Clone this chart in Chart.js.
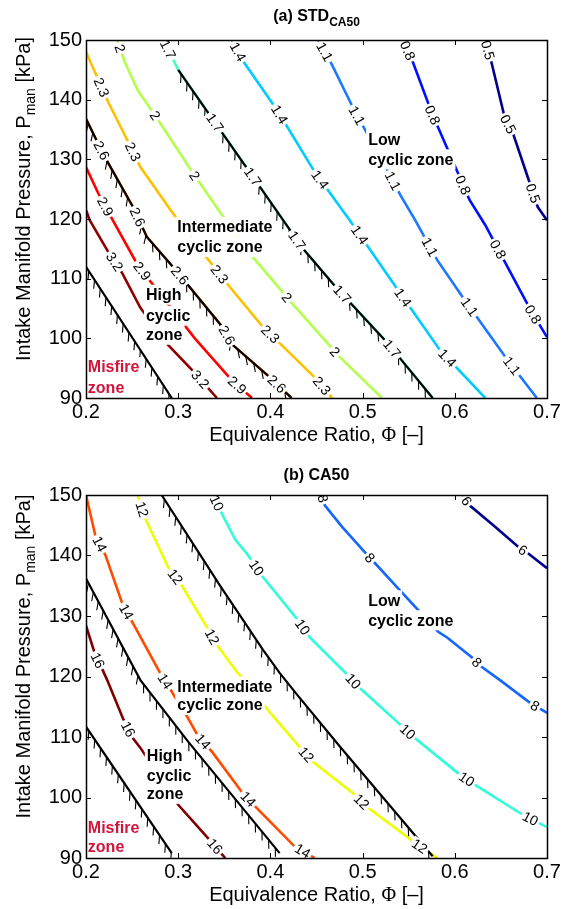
<!DOCTYPE html>
<html>
<head>
<meta charset="utf-8">
<script src="https://cdn.jsdelivr.net/npm/chart.js@4.4.0/dist/chart.umd.min.js"></script>
<style>
  body { margin: 0; background: #fff; }
  .panel { position: absolute; left: 0; width: 575px; }
  #pa { top: 0; height: 455px; }
  #pb { top: 455px; height: 454px; }
</style>
</head>
<body>
<div class="panel" id="pa"><canvas id="chartA"></canvas></div>
<div class="panel" id="pb"><canvas id="chartB"></canvas></div>
<script>
// axis ticks
const xTicks = [0.2, 0.3, 0.4, 0.5, 0.6, 0.7];
const yTicks = [90, 100, 110, 120, 130, 140, 150];

// (a) STD_CA50 contours, points are [phi, Pman]
const stdLevels = [0.5, 0.8, 1.1, 1.4, 1.7, 2, 2.3, 2.6, 2.9, 3.2];
const stdColors = ['#00008f', '#0010ff', '#1c78ff', '#00ccff', '#40ffbf', '#b2ff4c', '#ffc000', '#ff6a00', '#ff0000', '#8f0000'];
const std05 = [[0.633,150],[0.640,146.1],[0.654,137.1],[0.663,134.4],[0.682,125.7],[0.690,122.0],[0.700,119.8]];
const std08 = [[0.544,150],[0.555,146.1],[0.575,137.8],[0.602,128.2],[0.616,123.2],[0.633,119.0],[0.657,112.0],[0.682,104.8],[0.700,100.2]];
const std11 = [[0.452,150],[0.467,145.8],[0.492,137.9],[0.528,127.9],[0.541,124.0],[0.557,119.8],[0.581,113.1],[0.609,106.8],[0.657,96.4],[0.689,90]];
const std14 = [[0.358,150],[0.372,146.1],[0.407,138.3],[0.448,127.9],[0.486,119.8],[0.537,108.4],[0.584,98.0],[0.633,90]];
const std17 = [[0.284,150],[0.300,145.0],[0.332,137.9],[0.376,128.2],[0.421,118.2],[0.435,115.1],[0.472,108.4],[0.526,99.4],[0.576,90]];
const std20 = [[0.234,150],[0.242,146.3],[0.256,141.6],[0.277,136.9],[0.316,127.7],[0.345,121.2],[0.381,113.6],[0.425,105.6],[0.475,96.9],[0.521,90]];
const std23 = [[0.2,148],[0.215,142.8],[0.224,139.6],[0.250,131.6],[0.259,128.7],[0.293,121.2],[0.331,113.5],[0.356,108.6],[0.392,101.9],[0.410,99.2],[0.451,93.0],[0.467,90]];
const std26 = [[0.2,136.8],[0.213,132.7],[0.224,129.4],[0.251,122.0],[0.266,117.0],[0.297,111.5],[0.348,101.9],[0.359,98.9],[0.400,93.4],[0.423,90]];
const std29 = [[0.2,128.7],[0.213,124.4],[0.229,119.8],[0.256,112.3],[0.318,100.0],[0.358,93.0],[0.380,90]];
const std32 = [[0.2,121.5],[0.204,119.8],[0.226,114.0],[0.239,111.0],[0.259,105.1],[0.289,98.9],[0.318,94.2],[0.342,90]];
// where the in-line labels sit (phi)
const std05Lab = [0.636, 0.658, 0.685];
const std08Lab = [0.549, 0.576, 0.609, 0.647, 0.685];
const std11Lab = [0.459, 0.494, 0.533, 0.573, 0.616, 0.662];
const std14Lab = [0.365, 0.410, 0.454, 0.497, 0.544, 0.592];
const std17Lab = [0.289, 0.340, 0.381, 0.429, 0.478, 0.532];
const std20Lab = [0.237, 0.275, 0.318, 0.418, 0.470];
const std23Lab = [0.217, 0.251, 0.345, 0.400, 0.456];
const std26Lab = [0.217, 0.256, 0.302, 0.353, 0.407];
const std29Lab = [0.221, 0.261, 0.364];
const std32Lab = [0.231, 0.324];
// zone boundaries (hatched)
const stdBoundLow = [[0.300,145.0],[0.332,137.9],[0.376,128.2],[0.421,118.2],[0.435,115.1],[0.472,108.4],[0.526,99.4],[0.576,90]];
const stdBoundHigh = std26;
const stdMisfire = [[0.2,112],[0.293,90]];

// (b) CA50 contours
const caLevels = [6, 8, 10, 12, 14, 16];
const caColors = ['#000090', '#1466ff', '#2cffd8', '#eeff00', '#ff4a00', '#800000'];
const ca06 = [[0.609,150],[0.616,148.3],[0.644,144.7],[0.669,141.4],[0.679,140.4],[0.700,137.9]];
const ca08 = [[0.456,150],[0.459,148.3],[0.478,144.7],[0.505,140.1],[0.513,138.8],[0.537,134.8],[0.582,127.4],[0.592,126.4],[0.619,123.1],[0.629,121.6],[0.649,119.4],[0.682,115.6],[0.700,114.0]];
const ca10 = [[0.338,150],[0.349,146.4],[0.362,142.6],[0.375,140.2],[0.392,136.4],[0.430,129.3],[0.443,126.4],[0.486,119.9],[0.497,118.1],[0.541,112.0],[0.557,109.8],[0.602,104.2],[0.622,102.1],[0.671,97.4],[0.700,95.1]];
const ca12 = [[0.256,150],[0.264,146.2],[0.289,138.1],[0.302,135.5],[0.331,128.2],[0.342,125.2],[0.364,120.7],[0.402,113.6],[0.432,108.3],[0.446,105.9],[0.492,100.4],[0.506,98.3],[0.557,92.5],[0.581,90]];
const ca14 = [[0.2,150],[0.210,143.4],[0.221,140.1],[0.240,131.8],[0.251,128.8],[0.280,120.7],[0.310,113.3],[0.321,110.3],[0.337,107.5],[0.370,100.7],[0.385,98.3],[0.425,92.1],[0.448,90]];
const ca16 = [[0.2,128.4],[0.210,123.6],[0.218,121.1],[0.223,119.4],[0.240,113.1],[0.251,109.8],[0.259,108.2],[0.300,98.8],[0.334,93.0],[0.351,90]];
const ca06Lab = [0.613, 0.674];
const ca08Lab = [0.457, 0.508, 0.624, 0.687];
const ca10Lab = [0.342, 0.385, 0.435, 0.490, 0.549, 0.613, 0.682];
const ca12Lab = [0.261, 0.297, 0.337, 0.439, 0.499, 0.562];
const ca14Lab = [0.215, 0.244, 0.286, 0.327, 0.376, 0.435];
const ca16Lab = [0.213, 0.246, 0.340];
const caBoundLow = [[0.282,150],[0.345,135.1],[0.392,124.4],[0.410,120.6],[0.430,116.8],[0.476,108.3],[0.576,90.3]];
const caBoundHigh = [[0.2,136.2],[0.259,119.4],[0.311,109.2],[0.410,90.8]];
const caMisfire = [[0.2,111.7],[0.293,90.8]];

const FONT = '"Liberation Sans", Arial, Helvetica, sans-serif';

function toXY(arr) {
  return arr.map(p => ({ x: p[0], y: p[1] }));
}

function buildDatasets(lines, labs, levels, colors, bounds) {
  const ds = [];
  bounds.forEach(b => {
    ds.push({ data: toXY(b), borderColor: '#000', borderWidth: 2.2, pointRadius: 0, order: 0, hatch: true });
  });
  lines.forEach((l, i) => {
    ds.push({ data: toXY(l), borderColor: colors[i], borderWidth: 2.6, pointRadius: 0, order: 1, level: levels[i], labelAt: labs[i] });
  });
  return ds;
}

function pixelPts(chart, i) {
  return chart.getDatasetMeta(i).data.map(e => ({ x: e.x, y: e.y }));
}

// hatch ticks on the lower-left side of a boundary
function drawHatch(ctx, pts) {
  const spacing = 10.5, len = 9, a = 38 * Math.PI / 180;
  let carry = 5;
  ctx.beginPath();
  for (let i = 0; i < pts.length - 1; i++) {
    const p = pts[i], q = pts[i + 1];
    const dx = q.x - p.x, dy = q.y - p.y, L = Math.hypot(dx, dy);
    const ux = dx / L, uy = dy / L;
    const nx = -uy, ny = ux;
    const hx = Math.cos(a) * ux + Math.sin(a) * nx, hy = Math.cos(a) * uy + Math.sin(a) * ny;
    let s = carry;
    while (s < L) {
      const x = p.x + ux * s, y = p.y + uy * s;
      ctx.moveTo(x, y);
      ctx.lineTo(x + hx * len, y + hy * len);
      s += spacing;
    }
    carry = s - L;
  }
  ctx.strokeStyle = '#000';
  ctx.lineWidth = 1.1;
  ctx.stroke();
}

function drawParts(ctx, parts, cx, y) {
  let total = 0;
  parts.forEach(p => { ctx.font = p.font; p.w = ctx.measureText(p.t).width; total += p.w; });
  let x = cx - total / 2;
  ctx.textAlign = 'left';
  ctx.textBaseline = 'alphabetic';
  parts.forEach(p => { ctx.font = p.font; ctx.fillText(p.t, x, y + (p.dy || 0)); x += p.w; });
}

const decorPlugin = {
  id: 'decor',
  afterDatasetsDraw(chart, args, opts) {
    const ctx = chart.ctx, area = chart.chartArea;
    const xs = chart.scales.x, ys = chart.scales.y;
    ctx.save();
    ctx.beginPath();
    ctx.rect(area.left, area.top, area.right - area.left, area.bottom - area.top);
    ctx.clip();

    chart.data.datasets.forEach((ds, i) => {
      if (ds.hatch) drawHatch(ctx, pixelPts(chart, i));
    });

    // contour labels, the white box cuts the line
    ctx.font = '14px ' + FONT;
    chart.data.datasets.forEach((ds, i) => {
      if (!ds.labelAt) return;
      const pts = pixelPts(chart, i);
      const txt = String(ds.level);
      const w = ctx.measureText(txt).width;
      ds.labelAt.forEach(lx => {
        const px = xs.getPixelForValue(lx);
        for (let k = 0; k < pts.length - 1; k++) {
          const p = pts[k], q = pts[k + 1];
          if ((p.x - px) * (q.x - px) <= 0 && p.x !== q.x) {
            const t = (px - p.x) / (q.x - p.x);
            const py = p.y + t * (q.y - p.y);
            const ang = Math.atan2(q.y - p.y, q.x - p.x);
            ctx.save();
            ctx.translate(px, py);
            ctx.rotate(ang);
            ctx.fillStyle = '#fff';
            ctx.fillRect(-w / 2 - 2, -6, w + 4, 12);
            ctx.fillStyle = '#000';
            ctx.textAlign = 'center';
            ctx.textBaseline = 'middle';
            ctx.fillText(txt, 0, 1);
            ctx.restore();
            break;
          }
        }
      });
    });

    // zone names with white background
    ctx.font = 'bold 16px ' + FONT;
    ctx.textAlign = 'left';
    ctx.textBaseline = 'middle';
    opts.zones.forEach(z => {
      const x = xs.getPixelForValue(z.x);
      z.lines.forEach((t, j) => {
        const y = ys.getPixelForValue(z.y[j]);
        const w = ctx.measureText(t).width;
        ctx.fillStyle = '#fff';
        ctx.fillRect(x - 2, y - 10, w + 4, 20);
      });
      z.lines.forEach((t, j) => {
        const y = ys.getPixelForValue(z.y[j]);
        ctx.fillStyle = z.color || '#000';
        ctx.fillText(t, x, y + 1);
      });
    });
    ctx.restore();

    // frame and inward ticks on all four sides
    ctx.save();
    ctx.strokeStyle = '#000';
    ctx.lineWidth = 1;
    ctx.beginPath();
    xTicks.forEach(v => {
      const x = Math.round(xs.getPixelForValue(v)) + 0.5;
      ctx.moveTo(x, area.bottom); ctx.lineTo(x, area.bottom - 5);
      ctx.moveTo(x, area.top); ctx.lineTo(x, area.top + 5);
    });
    yTicks.forEach(v => {
      const y = Math.round(ys.getPixelForValue(v)) + 0.5;
      ctx.moveTo(area.left, y); ctx.lineTo(area.left + 5, y);
      ctx.moveTo(area.right, y); ctx.lineTo(area.right - 5, y);
    });
    ctx.stroke();
    ctx.lineWidth = 1.5;
    ctx.strokeRect(Math.round(area.left) + 0.5, Math.round(area.top) + 0.5,
      Math.round(area.right - area.left), Math.round(area.bottom - area.top));

    // titles
    ctx.fillStyle = '#000';
    const cx = (area.left + area.right) / 2;
    drawParts(ctx, opts.title, cx, opts.titleY);
    drawParts(ctx, [
      { t: 'Equivalence Ratio, ', font: '20px ' + FONT },
      { t: 'Φ', font: '20px "Liberation Serif", "Times New Roman", serif' },
      { t: ' [–]', font: '20px ' + FONT }
    ], cx, area.bottom + 43);
    ctx.save();
    ctx.translate(30, (area.top + area.bottom) / 2 - 20);
    ctx.rotate(-Math.PI / 2);
    drawParts(ctx, [
      { t: 'Intake Manifold Pressure, P', font: '20px ' + FONT },
      { t: 'man', font: '14px ' + FONT, dy: 5 },
      { t: ' [kPa]', font: '20px ' + FONT }
    ], 0, 0);
    ctx.restore();
    ctx.restore();
  }
};

function makeChart(id, datasets, xAxisH, zones, title, titleY) {
  return new Chart(document.getElementById(id), {
    type: 'line',
    data: { datasets: datasets },
    options: {
      responsive: true,
      maintainAspectRatio: false,
      animation: false,
      layout: { padding: { left: 0, right: 28, top: 40, bottom: 0 } },
      plugins: {
        legend: { display: false },
        tooltip: { enabled: false },
        decor: { zones: zones, title: title, titleY: titleY }
      },
      scales: {
        x: {
          type: 'linear', min: 0.2, max: 0.7,
          afterBuildTicks: s => { s.ticks = xTicks.map(v => ({ value: v })); },
          afterFit: s => { s.height = xAxisH; },
          ticks: { font: { family: FONT, size: 20 }, color: '#000', padding: 2, maxRotation: 0, autoSkip: false,
                   callback: v => v.toFixed(1) },
          grid: { display: false, drawTicks: false },
          border: { display: false }
        },
        y: {
          type: 'linear', min: 90, max: 150,
          afterBuildTicks: s => { s.ticks = yTicks.map(v => ({ value: v })); },
          afterFit: s => { s.width = 86; },
          ticks: { font: { family: FONT, size: 20 }, color: '#000', padding: 4, autoSkip: false,
                   callback: v => String(v) },
          grid: { display: false, drawTicks: false },
          border: { display: false }
        }
      }
    },
    plugins: [decorPlugin]
  });
}

const stdZones = [
  { x: 0.506, y: [133.3, 130.0], lines: ['Low', 'cyclic zone'] },
  { x: 0.299, y: [118.7, 115.3], lines: ['Intermediate', 'cyclic zone'] },
  { x: 0.265, y: [107.3, 103.8, 100.6], lines: ['High', 'cyclic', 'zone'] },
  { x: 0.202, y: [95.2, 91.8], lines: ['Misfire', 'zone'], color: '#d2143c' }
];
const caZones = [
  { x: 0.506, y: [132.6, 129.3], lines: ['Low', 'cyclic zone'] },
  { x: 0.299, y: [118.3, 115.3], lines: ['Intermediate', 'cyclic zone'] },
  { x: 0.266, y: [107.0, 103.7, 100.6], lines: ['High', 'cyclic', 'zone'] },
  { x: 0.202, y: [95.1, 91.9], lines: ['Misfire', 'zone'], color: '#d2143c' }
];

makeChart('chartA',
  buildDatasets([std05, std08, std11, std14, std17, std20, std23, std26, std29, std32],
    [std05Lab, std08Lab, std11Lab, std14Lab, std17Lab, std20Lab, std23Lab, std26Lab, std29Lab, std32Lab],
    stdLevels, stdColors, [stdBoundLow, stdBoundHigh, stdMisfire]),
  57, stdZones,
  [{ t: '(a) STD', font: 'bold 16px ' + FONT }, { t: 'CA50', font: 'bold 12px ' + FONT, dy: 5 }], 21);

makeChart('chartB',
  buildDatasets([ca06, ca08, ca10, ca12, ca14, ca16],
    [ca06Lab, ca08Lab, ca10Lab, ca12Lab, ca14Lab, ca16Lab],
    caLevels, caColors, [caBoundLow, caBoundHigh, caMisfire]),
  51, caZones,
  [{ t: '(b) CA50', font: 'bold 16px ' + FONT }], 25);
</script>
</body>
</html>
